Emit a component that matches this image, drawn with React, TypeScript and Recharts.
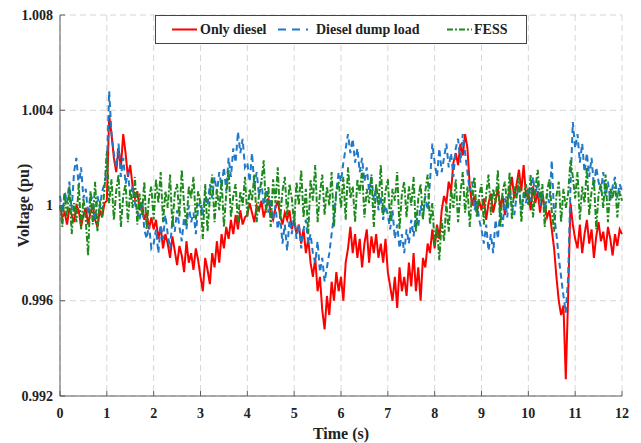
import React from 'react';
import { LineChart, Line, XAxis, YAxis, CartesianGrid, Legend } from 'recharts';

// sampled every 0.05 s from 0 to 12 s
const STEP = 0.05;

const onlyDiesel = [
    1.0000, 0.9995, 0.9997, 0.9992, 0.9999, 0.9996, 0.9993, 1.0000, 0.9998, 0.9991, 0.9996, 0.9999, 0.9992, 0.9997, 1.0000, 0.9994, 0.9991, 0.9998, 0.9995, 1.0001,
    1.0002, 1.0038, 1.0030, 1.0020, 1.0014, 1.0024, 1.0016, 1.0030, 1.0022, 1.0012, 1.0017, 1.0008, 1.0003, 1.0006, 0.9998, 1.0001, 0.9994, 0.9997, 0.9990, 0.9995,
    0.9990, 0.9994, 0.9986, 0.9991, 0.9982, 0.9988, 0.9984, 0.9978, 0.9987, 0.9981, 0.9975, 0.9983, 0.9979, 0.9972, 0.9985, 0.9976, 0.9980, 0.9973, 0.9982, 0.9977,
    0.9970, 0.9964, 0.9978, 0.9973, 0.9967, 0.9980, 0.9974, 0.9985, 0.9976, 0.9988, 0.9982, 0.9991, 0.9986, 0.9994, 0.9988, 0.9996, 0.9990, 0.9998, 0.9992, 0.9995,
    0.9996, 1.0001, 0.9997, 0.9993, 1.0000, 0.9998, 1.0002, 0.9995, 0.9999, 1.0003, 0.9997, 0.9994, 0.9999, 1.0002, 0.9996, 0.9992, 0.9997, 0.9994, 0.9998, 0.9990,
    0.9994, 0.9988, 0.9992, 0.9984, 0.9990, 0.9980, 0.9986, 0.9976, 0.9970, 0.9978, 0.9964, 0.9970, 0.9956, 0.9948, 0.9962, 0.9954, 0.9968, 0.9960, 0.9972, 0.9964,
    0.9970, 0.9960, 0.9976, 0.9982, 0.9991, 0.9980, 0.9988, 0.9978, 0.9986, 0.9974, 0.9984, 0.9990, 0.9976, 0.9987, 0.9980, 0.9988, 0.9978, 0.9984, 0.9976, 0.9986,
    0.9972, 0.9966, 0.9960, 0.9970, 0.9957, 0.9974, 0.9964, 0.9970, 0.9962, 0.9976, 0.9966, 0.9980, 0.9964, 0.9974, 0.9960, 0.9978, 0.9974, 0.9984, 0.9980, 0.9990,
    0.9982, 0.9992, 0.9986, 0.9998, 1.0004, 1.0001, 1.0010, 1.0006, 1.0018, 1.0022, 1.0017, 1.0026, 1.0021, 1.0030, 1.0024, 1.0008, 1.0000, 1.0004, 0.9997, 1.0002,
    0.9998, 1.0003, 0.9994, 1.0001, 1.0005, 0.9997, 1.0002, 1.0007, 0.9999, 1.0004, 0.9996, 1.0002, 1.0006, 1.0012, 1.0003, 1.0009, 1.0015, 1.0006, 1.0017, 1.0004,
    1.0005, 0.9998, 1.0008, 1.0001, 1.0006, 0.9997, 1.0004, 1.0000, 0.9995, 0.9998, 0.9990, 0.9982, 0.9970, 0.9960, 0.9954, 0.9958, 0.9927, 0.9962, 1.0001, 0.9992,
    0.9986, 0.9982, 0.9992, 0.9980, 0.9988, 0.9994, 0.9984, 0.9990, 0.9978, 0.9987, 0.9993, 0.9985, 0.9989, 0.9981, 0.9991, 0.9986, 0.9979, 0.9988, 0.9983, 0.9990,
    0.9988,
];

const dieselDumpLoad = [
    1.0004, 0.9997, 1.0006, 1.0001, 1.0010, 0.9998, 1.0014, 1.0020, 1.0008, 1.0016, 1.0003, 1.0007, 0.9996, 1.0005, 1.0002, 0.9994, 1.0004, 0.9999, 1.0006, 1.0009,
    1.0015, 1.0048, 1.0030, 1.0022, 1.0016, 1.0026, 1.0012, 1.0020, 1.0009, 1.0014, 1.0004, 1.0008, 1.0001, 0.9997, 0.9994, 1.0002, 0.9990, 0.9986, 0.9992, 0.9982,
    0.9984, 0.9990, 0.9980, 0.9992, 0.9986, 0.9996, 0.9988, 0.9982, 0.9994, 0.9989, 0.9998, 0.9991, 0.9985, 0.9995, 0.9990, 1.0000, 0.9993, 0.9997, 0.9988, 0.9999,
    1.0002, 0.9996, 1.0006, 1.0000, 1.0009, 1.0003, 1.0012, 1.0005, 1.0014, 1.0008, 1.0016, 1.0006, 1.0020, 1.0012, 1.0024, 1.0018, 1.0031, 1.0022, 1.0028, 1.0016,
    1.0018, 1.0010, 1.0022, 1.0008, 1.0014, 1.0004, 1.0010, 1.0000, 1.0006, 0.9997, 1.0003, 0.9994, 1.0000, 0.9990, 0.9996, 0.9984, 0.9992, 0.9981, 0.9994, 0.9988,
    0.9996, 0.9986, 0.9992, 0.9982, 0.9990, 0.9994, 0.9984, 0.9988, 0.9980, 0.9976, 0.9985, 0.9972, 0.9978, 0.9968, 0.9974, 0.9980, 0.9988, 0.9996, 1.0006, 1.0014,
    1.0010, 1.0018, 1.0024, 1.0030, 1.0022, 1.0028, 1.0018, 1.0024, 1.0014, 1.0020, 1.0010, 1.0016, 1.0006, 1.0012, 1.0002, 1.0008, 0.9998, 1.0004, 0.9994, 1.0000,
    0.9996, 0.9990, 0.9998, 0.9986, 0.9992, 0.9982, 0.9988, 0.9980, 0.9990, 0.9984, 0.9994, 0.9987, 0.9997, 0.9991, 1.0000, 0.9995, 1.0004, 0.9998, 1.0010, 1.0026,
    1.0018, 1.0012, 1.0024, 1.0014, 1.0020, 1.0026, 1.0016, 1.0022, 1.0012, 1.0024, 1.0028, 1.0018, 1.0030, 1.0022, 1.0014, 1.0006, 1.0010, 0.9998, 1.0002, 0.9994,
    0.9990, 0.9984, 0.9992, 0.9981, 0.9988, 0.9980, 0.9994, 0.9986, 0.9998, 0.9991, 1.0003, 0.9995, 1.0006, 1.0000, 0.9996, 1.0004, 1.0008, 0.9998, 1.0005, 1.0001,
    1.0008, 1.0002, 1.0012, 1.0004, 1.0010, 1.0000, 1.0006, 0.9998, 1.0005, 1.0001, 1.0019, 0.9996, 0.9988, 0.9978, 0.9970, 0.9962, 0.9955, 0.9970, 1.0008, 1.0035,
    1.0024, 1.0030, 1.0018, 1.0026, 1.0014, 1.0022, 1.0012, 1.0020, 1.0008, 1.0016, 1.0010, 1.0006, 1.0014, 1.0004, 1.0010, 1.0002, 1.0008, 1.0012, 1.0003, 1.0009,
    1.0006,
];

const fess = [
    1.0000, 0.9991, 1.0005, 0.9995, 1.0008, 0.9988, 1.0001, 0.9993, 1.0009, 0.9990, 1.0003, 0.9994, 0.9979, 1.0006, 0.9992, 1.0010, 0.9989, 1.0002, 0.9995, 1.0007,
    1.0023, 1.0001, 1.0011, 0.9994, 1.0006, 1.0013, 0.9991, 1.0004, 1.0009, 0.9993, 1.0007, 0.9999, 1.0012, 0.9992, 1.0005, 0.9996, 1.0010, 0.9990, 1.0003, 1.0008,
    0.9994, 1.0011, 1.0001, 1.0014, 0.9993, 1.0006, 0.9999, 1.0013, 0.9991, 1.0005, 1.0009, 0.9995, 1.0015, 1.0000, 0.9992, 1.0008, 1.0003, 1.0012, 0.9994, 1.0006,
    1.0001, 0.9986, 1.0009, 0.9989, 1.0003, 1.0013, 0.9993, 1.0007, 0.9998, 1.0011, 0.9991, 1.0005, 1.0015, 0.9995, 1.0004, 1.0009, 0.9992, 1.0006, 1.0000, 1.0012,
    0.9995, 1.0007, 1.0002, 1.0013, 0.9993, 1.0005, 1.0010, 1.0019, 0.9997, 1.0008, 0.9991, 1.0011, 1.0001, 1.0016, 0.9994, 1.0006, 1.0012, 0.9996, 1.0009, 1.0003,
    0.9992, 1.0010, 1.0000, 1.0015, 0.9995, 1.0007, 0.9988, 1.0011, 1.0002, 1.0017, 0.9993, 1.0005, 1.0013, 0.9996, 1.0008, 1.0000, 1.0014, 0.9991, 1.0006, 1.0010,
    0.9999, 1.0012, 0.9994, 1.0016, 1.0003, 1.0008, 0.9993, 1.0011, 1.0005, 1.0015, 0.9995, 1.0007, 1.0001, 1.0013, 0.9991, 1.0009, 1.0000, 1.0017, 0.9996, 1.0006,
    1.0011, 0.9993, 1.0007, 1.0002, 1.0014, 0.9990, 1.0005, 1.0010, 0.9995, 1.0008, 1.0000, 1.0012, 0.9989, 1.0003, 1.0009, 0.9994, 1.0006, 1.0013, 0.9992, 1.0001,
    0.9983, 0.9991, 0.9977, 0.9994, 0.9985, 1.0001, 0.9989, 1.0007, 0.9999, 1.0011, 0.9993, 1.0005, 1.0014, 0.9997, 1.0008, 0.9991, 1.0006, 1.0012, 0.9995, 1.0004,
    1.0009, 0.9992, 1.0005, 1.0013, 0.9996, 1.0007, 1.0001, 1.0015, 0.9991, 1.0006, 1.0010, 0.9999, 1.0014, 0.9994, 1.0008, 1.0003, 1.0012, 0.9993, 1.0005, 1.0009,
    1.0000, 1.0013, 0.9995, 1.0007, 1.0015, 1.0002, 1.0009, 0.9991, 1.0006, 1.0011, 0.9998, 0.9989, 1.0004, 1.0010, 0.9993, 1.0007, 0.9999, 1.0005, 1.0019, 1.0012,
    1.0003, 1.0014, 0.9994, 1.0008, 1.0001, 1.0016, 0.9996, 1.0006, 1.0011, 0.9990, 1.0005, 1.0009, 0.9999, 1.0013, 0.9993, 1.0007, 1.0003, 1.0010, 0.9995, 1.0006,
    1.0002,
];

const xTicks = [0, 1, 2, 3, 4, 5, 6, 7, 8, 9, 10, 11, 12];
const yTicks = [0.992, 0.996, 1, 1.004, 1.008];

const data = onlyDiesel.map((v, i) => ({
    time: Math.round(i * STEP * 100) / 100,
    diesel: v,
    dump: dieselDumpLoad[i],
    fess: fess[i],
}));

const FONT = '"Liberation Serif", "Times New Roman", serif';
const AXIS = '#5c5c5c';
const RED = '#ff0000';
const BLUE = '#1f78c8';
const GREEN = '#1e8a1e';

const labelStyle = { fontFamily: FONT, fontWeight: 'bold', fill: '#222' };

const BottomTick = ({ x, y, payload }) => (
    <g>
        <line x1={x} x2={x} y1={y} y2={y - 5} stroke={AXIS} />
        <text x={x} y={y + 17} textAnchor="middle" dominantBaseline="central" fontSize={14} style={labelStyle}>
            {payload.value}
        </text>
    </g>
);

const LeftTick = ({ x, y, payload }) => (
    <g>
        <line x1={x} x2={x + 5} y1={y} y2={y} stroke={AXIS} />
        <text x={x - 7} y={y} textAnchor="end" dominantBaseline="central" fontSize={14} style={labelStyle}>
            {payload.value === 1 ? '1' : payload.value.toFixed(3)}
        </text>
    </g>
);

const TopTick = ({ x, y }) => <line x1={x} x2={x} y1={y} y2={y + 5} stroke={AXIS} />;
const RightTick = ({ x, y }) => <line x1={x} x2={x - 5} y1={y} y2={y} stroke={AXIS} />;

const LegendBox = () => (
    <div style={{ width: 372, height: 29, border: '1px solid #444', background: '#fff', boxSizing: 'border-box' }}>
        <svg width={370} height={27} style={{ display: 'block' }}>
            <line x1={16} x2={41} y1={13.5} y2={13.5} stroke={RED} strokeWidth={2} />
            <text x={44} y={13.5} dominantBaseline="central" fontSize={14} style={labelStyle}>Only diesel</text>
            <line x1={122} x2={152} y1={13.5} y2={13.5} stroke={BLUE} strokeWidth={2} strokeDasharray="8 6" />
            <text x={160} y={13.5} dominantBaseline="central" fontSize={14} style={labelStyle}>Diesel dump load</text>
            <line x1={291} x2={316} y1={13.5} y2={13.5} stroke={GREEN} strokeWidth={2} strokeDasharray="6 2 2 2" />
            <text x={318} y={13.5} dominantBaseline="central" fontSize={14} style={labelStyle}>FESS</text>
        </svg>
    </div>
);

export default function App() {
    return (
        <div style={{ position: 'absolute', left: 0, top: 0, width: 641, height: 443, background: '#fff' }}>
            <LineChart width={641} height={443} data={data} margin={{ top: 15, right: 19, bottom: 0, left: 0 }}>
                <CartesianGrid strokeDasharray="6 4" stroke="#d6d6d6" />
                <XAxis
                    dataKey="time"
                    type="number"
                    domain={[0, 12]}
                    ticks={xTicks}
                    height={47}
                    tickSize={0}
                    tickMargin={0}
                    tickLine={false}
                    tick={BottomTick}
                    axisLine={{ stroke: AXIS }}
                    label={{
                        content: ({ viewBox }) => (
                            <text x={viewBox.x + viewBox.width / 2} y={433} textAnchor="middle" dominantBaseline="central" fontSize={16} style={labelStyle}>
                                Time (s)
                            </text>
                        ),
                    }}
                />
                <XAxis
                    xAxisId="top"
                    orientation="top"
                    dataKey="time"
                    type="number"
                    domain={[0, 12]}
                    ticks={xTicks}
                    height={0}
                    tickSize={0}
                    tickMargin={0}
                    tickLine={false}
                    tick={TopTick}
                    axisLine={{ stroke: AXIS }}
                />
                <YAxis
                    type="number"
                    domain={[0.992, 1.008]}
                    ticks={yTicks}
                    allowDataOverflow
                    width={60}
                    tickSize={0}
                    tickMargin={0}
                    tickLine={false}
                    tick={LeftTick}
                    axisLine={{ stroke: AXIS }}
                    label={{
                        content: ({ viewBox }) => {
                            const cy = viewBox.y + viewBox.height / 2;
                            return (
                                <text x={23} y={cy} transform={`rotate(-90 23 ${cy})`} textAnchor="middle" dominantBaseline="central" fontSize={16} style={labelStyle}>
                                    Voltage (pu)
                                </text>
                            );
                        },
                    }}
                />
                <YAxis
                    yAxisId="right"
                    orientation="right"
                    type="number"
                    domain={[0.992, 1.008]}
                    ticks={yTicks}
                    allowDataOverflow
                    width={0}
                    tickSize={0}
                    tickMargin={0}
                    tickLine={false}
                    tick={RightTick}
                    axisLine={{ stroke: AXIS }}
                />
                <Legend
                    layout="horizontal"
                    verticalAlign="middle"
                    align="center"
                    content={LegendBox}
                    wrapperStyle={{ top: 15, left: 155, width: 372, height: 29 }}
                />
                <Line type="linear" dataKey="diesel" name="Only diesel" stroke={RED} strokeWidth={2} dot={false} isAnimationActive={false} />
                <Line type="linear" dataKey="dump" name="Diesel dump load" stroke={BLUE} strokeWidth={2} strokeDasharray="6 4" dot={false} isAnimationActive={false} />
                <Line type="linear" dataKey="fess" name="FESS" stroke={GREEN} strokeWidth={2} strokeDasharray="6 2 2 2" dot={false} isAnimationActive={false} />
            </LineChart>
        </div>
    );
}
